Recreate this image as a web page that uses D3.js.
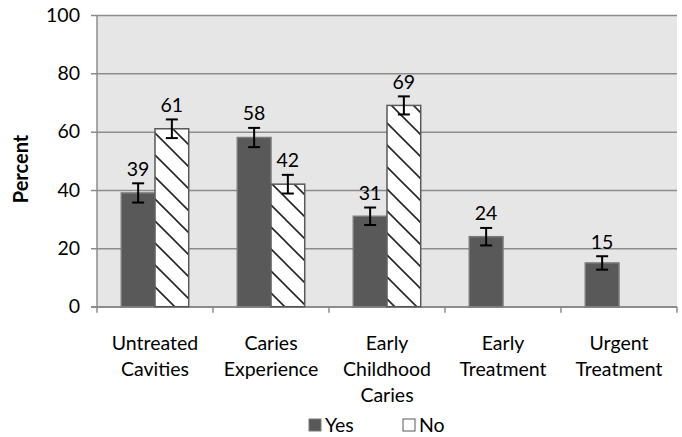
<!DOCTYPE html>
<html><head><meta charset="utf-8">
<script src="https://cdn.jsdelivr.net/npm/d3@7"></script>
<style>
html,body{margin:0;padding:0;background:#fff;}
text{font-family:Lato, "Open Sans", sans-serif;fill:#000;}
</style></head>
<body><svg id="c" width="682" height="437"></svg>
<script>
const categories = ["Untreated Cavities","Caries Experience","Early Childhood Caries","Early Treatment","Urgent Treatment"];
const categoryLines = [["Untreated","Cavities"],["Caries","Experience"],["Early","Childhood","Caries"],["Early","Treatment"],["Urgent","Treatment"]];
const seriesNames = ["Yes","No"];
const yesValues = [39,58,31,24,15];
const noValues = [61,42,69,null,null];
const yesErr = [3.3,3.3,3.0,3.0,2.3];
const noErr = [3.2,3.2,3.1,null,null];
const yTicks = [0,20,40,60,80,100];

const svg = d3.select("#c");
const L=97,R=677,T=15,B=306.7;
const FS = 19.5;
const x0 = d3.scaleBand().domain(categories).range([L,R]).paddingInner(0).paddingOuter(0);
const x1 = d3.scaleBand().domain(seriesNames).range([0,x0.bandwidth()]).paddingInner(0).paddingOuter(0.72);
const y = d3.scaleLinear().domain([0,100]).range([B,T]);

const defs = svg.append("defs");
const pat = defs.append("pattern").attr("id","hatch").attr("patternUnits","userSpaceOnUse")
  .attr("width",22).attr("height",22);
pat.append("rect").attr("width",22).attr("height",22).attr("fill","#fff");
pat.append("path").attr("d","M0,0L22,22M-3,19L3,25M19,-3L25,3").attr("stroke","#262626").attr("stroke-width",1.6);

// plot background
svg.append("rect").attr("x",L).attr("y",T).attr("width",R-L).attr("height",B-T).attr("fill","#e6e6e6");

// gridlines + y axis
const yAxis = d3.axisLeft(y).tickValues(yTicks).tickSize(-(R-L)).tickSizeOuter(0).tickPadding(17);
const gy = svg.append("g").attr("transform",`translate(${L},0)`).call(yAxis);
gy.select(".domain").remove();
gy.selectAll(".tick line").attr("stroke","#8c8c8c").attr("stroke-width",1.5).attr("x1",-6);
gy.selectAll(".tick text").attr("font-size",FS).attr("font-family","Lato, sans-serif").attr("fill","#000");
svg.append("line").attr("x1",L).attr("x2",L).attr("y1",T).attr("y2",B).attr("stroke","#8c8c8c").attr("stroke-width",1.5);

// x axis
const xAxis = d3.axisBottom(x0).tickSize(0).tickFormat("");
const gx = svg.append("g").attr("transform",`translate(0,${B})`).call(xAxis);
gx.select(".domain").remove();
svg.append("line").attr("x1",L-6).attr("x2",R).attr("y1",B).attr("y2",B).attr("stroke","#8c8c8c").attr("stroke-width",1.5);
const bounds = categories.map(c=>x0(c)).concat([x0(categories[categories.length-1])+x0.bandwidth()]);
svg.append("g").selectAll("line").data(bounds).join("line")
  .attr("x1",d=>d).attr("x2",d=>d).attr("y1",B).attr("y2",B+6).attr("stroke","#8c8c8c").attr("stroke-width",1.5);

// category labels
const cl = svg.append("g").selectAll("text").data(categories).join("text")
  .attr("x",d=>x0(d)+x0.bandwidth()/2).attr("y",350).attr("text-anchor","middle").attr("font-size",FS);
cl.each(function(d,i){
  d3.select(this).selectAll("tspan").data(categoryLines[i]).join("tspan")
    .attr("x",x0(d)+x0.bandwidth()/2).attr("dy",(t,j)=>j===0?0:26).text(t=>t);
});

// bars
const rows = categories.map((c,i)=>[
  {c, s:"Yes", v:yesValues[i], e:yesErr[i]},
  {c, s:"No", v:noValues[i], e:noErr[i]}
]).flat().filter(d=>d.v!=null);

const bars = svg.append("g");
bars.selectAll("rect").data(rows).join("rect")
  .attr("x",d=>x0(d.c)+x1(d.s)).attr("width",x1.bandwidth())
  .attr("y",d=>y(d.v)).attr("height",d=>y(0)-y(d.v))
  .attr("fill",d=>d.s==="Yes"?"#595959":"url(#hatch)")
  .attr("stroke",d=>d.s==="Yes"?"#7a7a7a":"#595959").attr("stroke-width",1.5);

// error bars
const eb = svg.append("g").attr("stroke","#000").attr("stroke-width",2);
rows.forEach(d=>{
  const cx = x0(d.c)+x1(d.s)+x1.bandwidth()/2;
  eb.append("line").attr("x1",cx).attr("x2",cx).attr("y1",y(d.v+d.e)).attr("y2",y(d.v-d.e));
  eb.append("line").attr("x1",cx-6).attr("x2",cx+6).attr("y1",y(d.v+d.e)).attr("y2",y(d.v+d.e));
  eb.append("line").attr("x1",cx-6).attr("x2",cx+6).attr("y1",y(d.v-d.e)).attr("y2",y(d.v-d.e));
});

// value labels
svg.append("g").selectAll("text").data(rows).join("text")
  .attr("x",d=>x0(d.c)+x1(d.s)+x1.bandwidth()/2).attr("y",d=>y(d.v+d.e)-7.5)
  .attr("text-anchor","middle").attr("font-size",FS).text(d=>d.v);

// y title
svg.append("text").attr("transform","translate(28,169) rotate(-90)").attr("text-anchor","middle")
  .attr("font-size",20).attr("font-weight","bold").text("Percent");

// legend
const lg = svg.append("g");
const legendItems = [{s:"Yes",x:309},{s:"No",x:403}];
lg.selectAll("rect").data(legendItems).join("rect")
  .attr("x",d=>d.x).attr("y",419).attr("width",12).attr("height",12)
  .attr("fill",d=>d.s==="Yes"?"#595959":"#fff").attr("stroke",d=>d.s==="Yes"?"#7a7a7a":"#595959").attr("stroke-width",1);
lg.selectAll("text").data(legendItems).join("text")
  .attr("x",d=>d.x+16).attr("y",432).attr("font-size",FS).text(d=>d.s);
</script></body></html>
